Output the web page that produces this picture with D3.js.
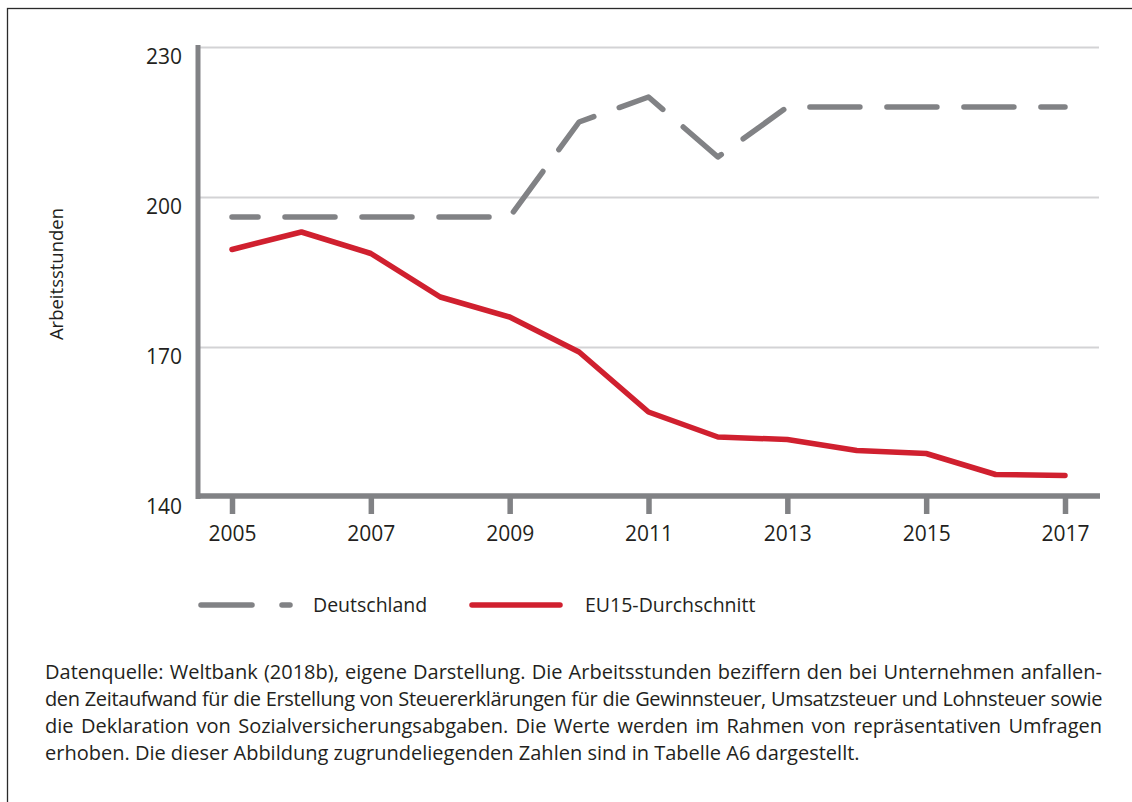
<!DOCTYPE html>
<html>
<head>
<meta charset="utf-8">
<script src="https://cdn.jsdelivr.net/npm/d3@7"></script>
<style>
  body { margin: 0; background: #fff; }
  svg { display: block; font-family: "Open Sans", sans-serif; }
</style>
</head>
<body>
<svg width="1132" height="802"></svg>
<script>
// Data
const years = [2005, 2006, 2007, 2008, 2009, 2010, 2011, 2012, 2013, 2014, 2015, 2016, 2017];
const deutschland = [196, 196, 196, 196, 196, 215, 220, 208, 218, 218, 218, 218, 218];
const eu15 = [189.5, 193, 188.7, 180, 176, 169, 157, 152, 151.5, 149.3, 148.7, 144.5, 144.3];
const xTicks = [2005, 2007, 2009, 2011, 2013, 2015, 2017];
const yTicks = [140, 170, 200, 230];
const seriesNames = ["Deutschland", "EU15-Durchschnitt"];
const yTitle = "Arbeitsstunden";
const captionLines = [
  "Datenquelle: Weltbank (2018b), eigene Darstellung. Die Arbeitsstunden beziffern den bei Unternehmen anfallen-",
  "den Zeitaufwand für die Erstellung von Steuererklärungen für die Gewinnsteuer, Umsatzsteuer und Lohnsteuer sowie",
  "die Deklaration von Sozialversicherungsabgaben. Die Werte werden im Rahmen von repräsentativen Umfragen",
  "erhoben. Die dieser Abbildung zugrundeliegenden Zahlen sind in Tabelle A6 dargestellt."
];

const gray = "#818285";
const red = "#d0202f";
const textColor = "#231f20";

const svg = d3.select("svg");

// Frame (only top and left edges are visible)
svg.append("rect")
    .attr("x", 7.5).attr("y", 8.5)
    .attr("width", 1140).attr("height", 820)
    .attr("fill", "none")
    .attr("stroke", "#2a2a2a")
    .attr("stroke-width", 1.3);

const x = d3.scaleLinear().domain([2005, 2017]).range([232, 1065]);
const y = d3.scaleLinear().domain([140, 230]).range([497, 47]);

// Gridlines
svg.append("g")
    .attr("transform", "translate(200,0)")
    .call(d3.axisLeft(y).tickValues(yTicks.slice(1)).tickSize(-899).tickFormat(""))
    .call(g => g.select(".domain").remove())
    .call(g => g.selectAll("line").attr("stroke", "#d3d3d5").attr("stroke-width", 2));

// Y tick labels
svg.append("g")
    .attr("transform", "translate(182,0)")
    .call(d3.axisLeft(y).tickValues(yTicks).tickSize(0).tickPadding(0))
    .call(g => g.select(".domain").remove())
    .call(g => g.selectAll("text")
        .attr("dy", 16)
        .attr("fill", textColor)
        .style("font-size", "21px")
        .style("font-family", "'Open Sans', sans-serif"));

// X ticks and labels
svg.append("g")
    .attr("transform", "translate(0,498)")
    .call(d3.axisBottom(x).tickValues(xTicks).tickFormat(d3.format("d")).tickSize(16).tickPadding(12))
    .call(g => g.select(".domain").remove())
    .call(g => g.selectAll("line").attr("stroke", gray).attr("stroke-width", 5.5))
    .call(g => g.selectAll("text")
        .attr("fill", textColor)
        .style("font-size", "21px")
        .style("font-family", "'Open Sans', sans-serif"));

// Axis lines
svg.append("line")
    .attr("x1", 198).attr("x2", 198)
    .attr("y1", 45).attr("y2", 499)
    .attr("stroke", gray).attr("stroke-width", 5);
svg.append("line")
    .attr("x1", 196).attr("x2", 1100)
    .attr("y1", y(140) - 1).attr("y2", y(140) - 1)
    .attr("stroke", gray).attr("stroke-width", 5.5);

// Y title
svg.append("text")
    .attr("transform", "translate(63,274) rotate(-90)")
    .attr("text-anchor", "middle")
    .attr("fill", textColor)
    .style("font-size", "18.5px")
    .text(yTitle);

// Lines
const line = d3.line()
    .x((d, i) => x(years[i]))
    .y(d => y(d));

svg.append("path")
    .attr("d", line(deutschland))
    .attr("fill", "none")
    .attr("stroke", gray)
    .attr("stroke-width", 5.5)
    .attr("stroke-linecap", "round")
    .attr("stroke-linejoin", "round")
    .attr("stroke-dasharray", "50 27")
    .attr("stroke-dashoffset", 24);

svg.append("path")
    .attr("d", line(eu15))
    .attr("fill", "none")
    .attr("stroke", red)
    .attr("stroke-width", 5.5)
    .attr("stroke-linecap", "round")
    .attr("stroke-linejoin", "round");

// Legend
const legY = 605;
const leg = svg.append("g");
leg.append("line")
    .attr("x1", 201).attr("x2", 252).attr("y1", legY).attr("y2", legY)
    .attr("stroke", gray).attr("stroke-width", 5.5).attr("stroke-linecap", "round");
leg.append("line")
    .attr("x1", 282).attr("x2", 290).attr("y1", legY).attr("y2", legY)
    .attr("stroke", gray).attr("stroke-width", 5.5).attr("stroke-linecap", "round");
leg.append("line")
    .attr("x1", 472).attr("x2", 560).attr("y1", legY).attr("y2", legY)
    .attr("stroke", red).attr("stroke-width", 5.5).attr("stroke-linecap", "round");
leg.append("text")
    .attr("x", 313).attr("y", legY + 7)
    .attr("fill", textColor).style("font-size", "19.5px")
    .text(seriesNames[0]);
leg.append("text")
    .attr("x", 585).attr("y", legY + 7)
    .attr("fill", textColor).style("font-size", "19.5px")
    .text(seriesNames[1]);

// Caption, justified word by word except the last line
const capX = 45, capW = 1057, capSize = 20;
const capBase = [679, 706, 733, 760];
const measure = svg.append("text").style("font-size", capSize + "px");
function wordWidth(w) {
  measure.text(w);
  return measure.node().getComputedTextLength();
}
const spaceW = wordWidth("a a") - wordWidth("aa");

captionLines.forEach((ln, li) => {
  const words = ln.split(" ");
  let widths = words.map(wordWidth);
  const last = li === captionLines.length - 1;
  const nChars = d3.sum(words, w => w.length);
  // tighten letters when the line would not fit with normal spaces
  let ls = 0;
  const need = d3.sum(widths) + (words.length - 1) * spaceW;
  if (!last && need > capW) {
    ls = (capW - need) / nChars;
    widths = widths.map((wd, i) => wd + ls * words[i].length);
  }
  const total = d3.sum(widths);
  const gap = last ? spaceW : (capW - total) / (words.length - 1);
  const t = svg.append("text")
      .attr("y", capBase[li])
      .attr("fill", textColor)
      .style("font-size", capSize + "px")
      .style("letter-spacing", ls + "px");
  let cx = capX;
  words.forEach((w, i) => {
    t.append("tspan").attr("x", cx).text(w);
    cx += widths[i] + gap;
  });
});
measure.remove();
</script>
</body>
</html>
